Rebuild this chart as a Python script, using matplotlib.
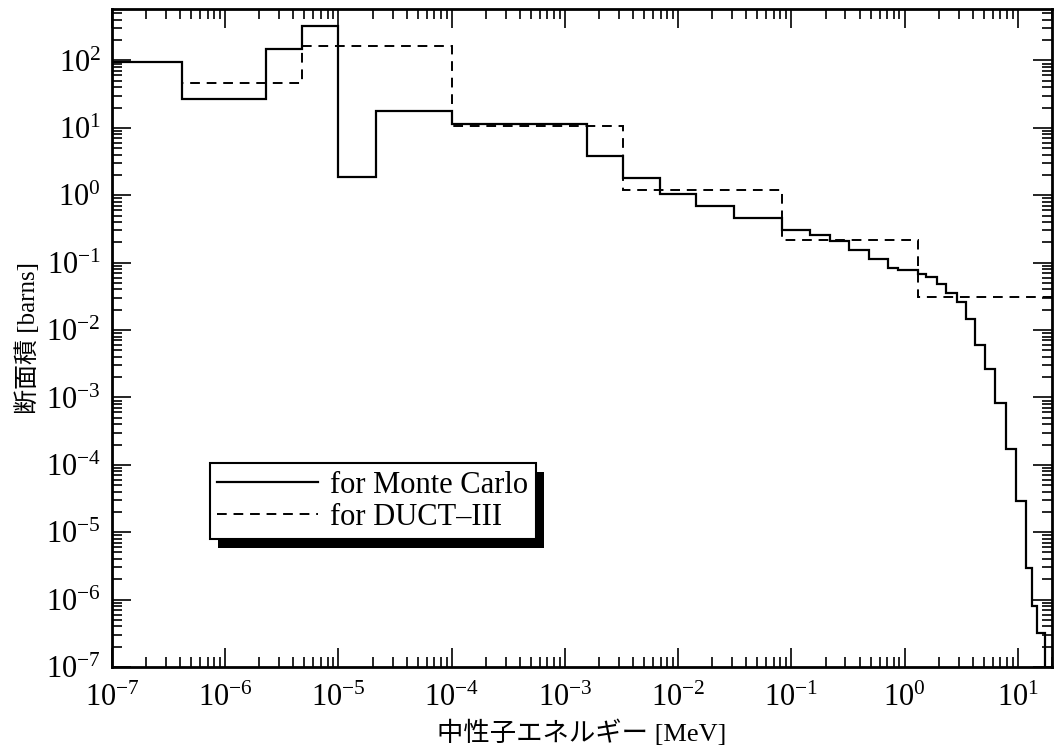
import matplotlib
matplotlib.use('Agg')
import matplotlib.pyplot as plt
from matplotlib.patches import Rectangle
from matplotlib.transforms import IdentityTransform
from matplotlib.ticker import LogLocator, NullFormatter

plt.rcParams['font.family'] = ['Liberation Serif', 'Noto Sans CJK JP']
plt.rcParams['mathtext.fontset'] = 'stix'

# Monte Carlo group structure (MeV) and cross sections (barns)
mc_edges = [1e-7, 4.14e-7, 2.3e-6, 4.8e-6, 1.0e-5, 2.15e-5, 1.0e-4, 1.55e-3,
            3.24e-3, 6.9e-3, 1.45e-2, 3.1e-2, 8.3e-2, 0.146, 0.219, 0.32,
            0.483, 0.716, 0.877, 1.30, 1.55, 1.94, 2.33, 2.9, 3.5, 4.2, 5.1,
            6.3, 7.8, 9.7, 11.7, 13.2, 14.8, 17.5]
mc_values = [95, 27, 150, 330, 1.85, 18, 11.5, 3.8, 1.8, 1.06,
             0.70, 0.46, 0.31, 0.26, 0.21, 0.155, 0.112, 0.083, 0.077, 0.067,
             0.061, 0.049, 0.036, 0.026, 0.0145, 0.0060, 0.0026, 8.4e-4,
             1.7e-4, 2.9e-5, 2.9e-6, 8.1e-7, 3.2e-7]

# DUCT-III group structure
duct_edges = [1e-7, 4.14e-7, 4.8e-6, 1e-4, 3.24e-3, 8.3e-2, 1.30, 20]
duct_values = [95, 47, 164, 10.6, 1.19, 0.22, 0.031]

x_decades = range(-7, 2)
y_decades = range(-7, 3)

fig = plt.figure(figsize=(10.54, 7.5), dpi=100)
ax = fig.add_axes([112 / 1054, 83 / 750, 940 / 1054, 658 / 750])

ax.stairs(mc_values, mc_edges, baseline=1e-12, color='black', lw=1.6,
          label='for Monte Carlo')
ax.stairs(duct_values, duct_edges, baseline=None, color='black', lw=1.4,
          linestyle=(0, (5, 3.5)), label='for DUCT\u2013III')

ax.set_xscale('log')
ax.set_yscale('log')
ax.set_xticks([10.0 ** k for k in x_decades])
ax.set_yticks([10.0 ** k for k in y_decades])
for a in (ax.xaxis, ax.yaxis):
    a.set_minor_locator(LogLocator(base=10, subs=range(2, 10), numticks=100))
    a.set_minor_formatter(NullFormatter())
ax.set_xlim(1e-7, 20)
ax.set_ylim(1e-7, 5.8e2)

ax.tick_params(which='both', direction='in', top=True, right=True,
               labelsize=22, width=1.2)
ax.tick_params(which='major', length=14, pad=8)
ax.tick_params(axis='x', which='major', pad=12)
ax.tick_params(which='minor', length=7)
for s in ax.spines.values():
    s.set_linewidth(2)

ax.set_xlabel('中性子エネルギー [MeV]', fontsize=19, labelpad=5)
ax.set_ylabel('断面積 [barns]', fontsize=18, labelpad=4)

leg = ax.legend(loc='upper left', bbox_to_anchor=(0.104, 0.31),
                borderaxespad=0, fontsize=22, handlelength=3.3,
                fancybox=False, edgecolor='black', framealpha=1,
                labelspacing=0.1, borderpad=0.25, handletextpad=0.4)
leg.get_frame().set_linewidth(1.5)
leg.set_zorder(10)

# offset black shadow behind the legend box
fig.canvas.draw()
bb = leg.get_window_extent()
shadow = Rectangle((bb.x0 + 8, bb.y0 - 9), bb.width, bb.height,
                   facecolor='black', edgecolor='none', zorder=9,
                   clip_on=False)
shadow.set_transform(IdentityTransform())
ax.add_artist(shadow)

fig.savefig('out.png', dpi=100)
